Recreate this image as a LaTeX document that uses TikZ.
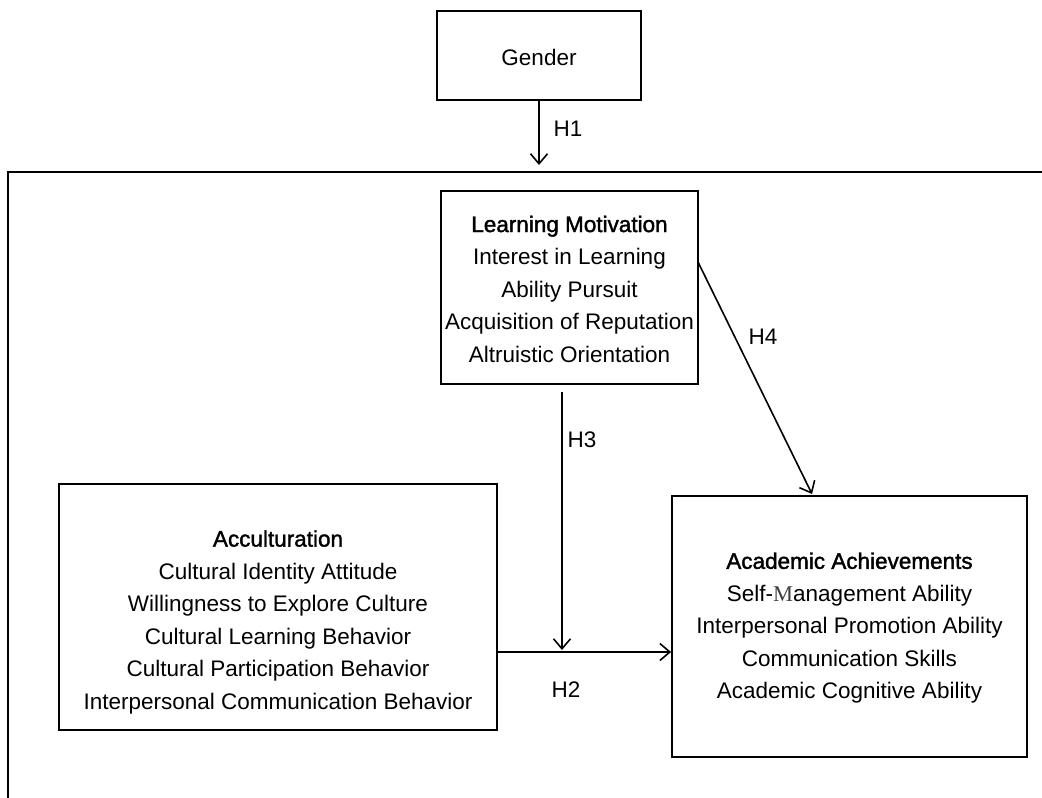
\documentclass[tikz,border=0pt]{standalone}
\usepackage{fontspec}
\setmainfont{Liberation Sans}
\newfontfamily\medfont{Liberation Sans}[FakeBold=1.6]
\newfontfamily\serifM{Liberation Serif}
\usetikzlibrary{arrows.meta}
\begin{document}
\begin{tikzpicture}[x=1pt,y=-1pt,
  boxnode/.style={draw,line width=1.8pt,rectangle,inner sep=0pt},
  txt/.style={align=center,font=\fontsize{22.5}{32.5}\selectfont,inner sep=0pt},
  lbl/.style={font=\fontsize{22.5}{25}\selectfont,inner sep=0pt},
  arr/.style={line width=1.6pt,-{Straight Barb[length=10pt,width=17pt,line width=1.6pt]}}]
\useasboundingbox (0,0) rectangle (1042,798);
% outer frame
\coordinate (ftl) at (8,172);
\coordinate (ftr) at (1042,172);
\coordinate (fbl) at (8,798);
\draw[line width=1.8pt] (ftr) -- (ftl) -- (fbl);
% boxes
\node[boxnode,minimum width=204pt,minimum height=89pt] (gender) at (539,55.5) {};
\node[txt] (gendert) at (539,57) {Gender};
\node[boxnode,minimum width=257pt,minimum height=193pt] (lm) at (569.5,287.5) {};
\node[txt] (lmt) at (569.5,289) {{\medfont Learning Motivation}\\Interest in Learning\\Ability Pursuit\\Acquisition of Reputation\\Altruistic Orientation};
\node[boxnode,minimum width=438pt,minimum height=246pt] (acc) at (278,607) {};
\node[txt] (acct) at (278,622) {{\medfont Acculturation}\\Cultural Identity Attitude\\Willingness to Explore Culture\\Cultural Learning Behavior\\Cultural Participation Behavior\\Interpersonal Communication Behavior};
\node[boxnode,minimum width=355pt,minimum height=261pt] (aa) at (849.5,626.5) {};
\node[txt] (aat) at (849.5,628) {{\medfont Academic Achievements}\\Self-{\serifM\color{black!75}M}anagement Ability\\Interpersonal Promotion Ability\\Communication Skills\\Academic Cognitive Ability};
% connectors
\coordinate (h1end) at (539,165);
\draw[arr] (gender.south) -- (h1end);
\node[lbl] (h1) at (568,129) {H1};
\coordinate (h4s) at (698,262);
\coordinate (h4e) at (812,494);
\draw[arr] (h4s) -- (h4e);
\node[lbl] (h4) at (763,337) {H4};
\coordinate (h2s) at (acc.east |- 0,652);
\coordinate (h2e) at (aa.west |- 0,652);
\draw[arr] (h2s) -- (h2e);
\node[lbl] (h2) at (566,690) {H2};
\coordinate (h3s) at (562,392);
\coordinate (h3e) at (562,650);
\draw[arr] (h3s) -- (h3e);
\node[lbl] (h3) at (582,440) {H3};
\end{tikzpicture}
\end{document}
